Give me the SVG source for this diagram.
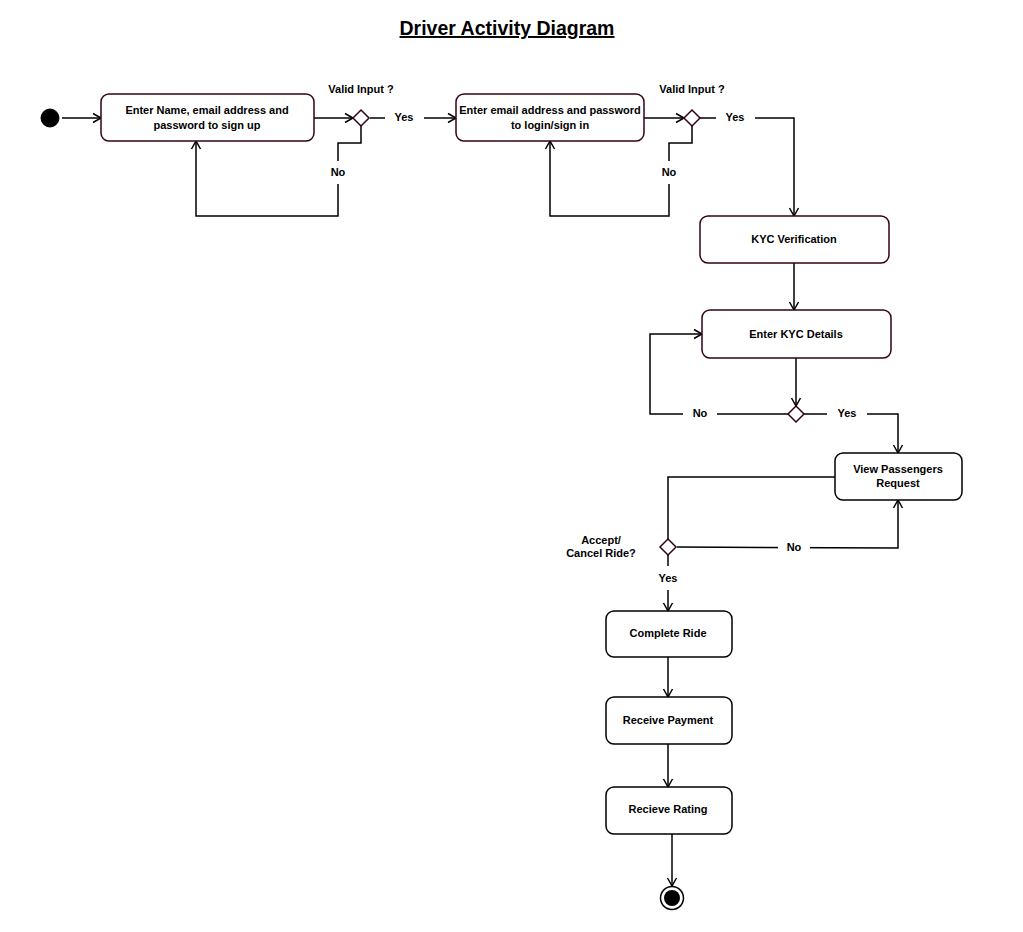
<svg xmlns="http://www.w3.org/2000/svg" width="1023" height="932" viewBox="0 0 1023 932">
<defs>
<marker id="arr" markerUnits="userSpaceOnUse" markerWidth="12" markerHeight="12" refX="9" refY="5" orient="auto" overflow="visible">
<path d="M1,0.5 L9,5 L1,9.5" fill="none" stroke="#000" stroke-width="1.5"/>
</marker>
<style>
.n{fill:#fff;stroke:#33001A;stroke-width:1.5}
.k{fill:#fff;stroke:#000;stroke-width:1.5}
.d{fill:#fff;stroke:#33001A;stroke-width:1.5}
.c{fill:none;stroke:#000;stroke-width:1.5}
.t{font-family:"Liberation Sans",Arial,sans-serif;font-size:11px;font-weight:bold;fill:#000;text-anchor:middle}
.bg{fill:#fff;stroke:none}
</style>
</defs>
<rect width="1023" height="932" fill="#fff"/>
<text x="507" y="35" font-family="Liberation Sans,Arial,sans-serif" font-size="19.5" font-weight="bold" text-anchor="middle" text-decoration="underline">Driver Activity Diagram</text>

<g id="connectors">
<path class="c" d="M62,118 L101,118" marker-end="url(#arr)"/>
<path class="c" d="M314,118 L353,118" marker-end="url(#arr)"/>
<path class="c" d="M370,118 L456,118" marker-end="url(#arr)"/>
<path class="c" d="M361,126 L361,143 L338,143 L338,216 L196,216 L196,141" marker-end="url(#arr)"/>
<path class="c" d="M644,118 L684,118" marker-end="url(#arr)"/>
<path class="c" d="M700,118 L794,118 L794,216" marker-end="url(#arr)"/>
<path class="c" d="M692,126 L692,143 L669,143 L669,216 L550,216 L550,141" marker-end="url(#arr)"/>
<path class="c" d="M794,263 L794,310" marker-end="url(#arr)"/>
<path class="c" d="M796,358 L796,406" marker-end="url(#arr)"/>
<path class="c" d="M788,414 L650,414 L650,334 L702,334" marker-end="url(#arr)"/>
<path class="c" d="M804,414 L898,414 L898,453" marker-end="url(#arr)"/>
<path class="c" d="M835,477 L668,477 L668,540"/>
<path class="c" d="M677,547 L898,548 L898,500" marker-end="url(#arr)"/>
<path class="c" d="M668,555 L668,611" marker-end="url(#arr)"/>
<path class="c" d="M668,657 L668,697" marker-end="url(#arr)"/>
<path class="c" d="M668,744 L668,787" marker-end="url(#arr)"/>
<path class="c" d="M672,834 L672,886" marker-end="url(#arr)"/>
<rect class="bg" x="385" y="108" width="39" height="20"/>
<text class="t" x="404" y="121">Yes</text>
<rect class="bg" x="325" y="161" width="26" height="23"/>
<text class="t" x="338" y="176">No</text>
<rect class="bg" x="716" y="108" width="39" height="20"/>
<text class="t" x="735" y="121">Yes</text>
<rect class="bg" x="656" y="161" width="26" height="23"/>
<text class="t" x="669" y="176">No</text>
<rect class="bg" x="683" y="404" width="34" height="20"/>
<text class="t" x="700" y="417">No</text>
<rect class="bg" x="827" y="404" width="40" height="20"/>
<text class="t" x="847" y="417">Yes</text>
<rect class="bg" x="778" y="538" width="32" height="20"/>
<text class="t" x="794" y="551">No</text>
<rect class="bg" x="655" y="566" width="26" height="24"/>
<text class="t" x="668" y="582">Yes</text>
</g>

<g id="start"><circle cx="50" cy="118" r="9" fill="#000" stroke="#000"/></g>

<g id="signup">
<rect class="n" x="101" y="94" width="213" height="47" rx="8"/>
<text class="t" x="207" y="114">Enter Name, email address and</text>
<text class="t" x="207" y="129">password to sign up</text>
</g>
<g id="dec1">
<path class="d" d="M361,110 L369,118 L361,126 L353,118 Z"/>
<text class="t" x="361" y="93">Valid Input ?</text>
</g>
<g id="login">
<rect class="n" x="456" y="94" width="188" height="47" rx="8"/>
<text class="t" x="550" y="114">Enter email address and password</text>
<text class="t" x="550" y="129">to login/sign in</text>
</g>
<g id="dec2">
<path class="d" d="M692,110 L700,118 L692,126 L684,118 Z"/>
<text class="t" x="692" y="93">Valid Input ?</text>
</g>
<g id="kyc">
<rect class="n" x="700" y="216" width="189" height="47" rx="8"/>
<text class="t" x="794" y="243">KYC Verification</text>
</g>
<g id="kycdetails">
<rect class="n" x="702" y="310" width="189" height="48" rx="8"/>
<text class="t" x="796" y="338">Enter KYC Details</text>
</g>
<g id="dec3">
<path class="d" d="M796,406 L804,414 L796,422 L788,414 Z"/>
</g>
<g id="view">
<rect class="k" x="835" y="453" width="127" height="47" rx="8"/>
<text class="t" x="898" y="473">View Passengers</text>
<text class="t" x="898" y="487">Request</text>
</g>
<g id="dec4">
<path class="d" d="M668,539 L676,547 L668,555 L660,547 Z"/>
<text class="t" x="601" y="544">Accept/</text>
<text class="t" x="601" y="557">Cancel Ride?</text>
</g>
<g id="complete">
<rect class="k" x="606" y="611" width="126" height="46" rx="8"/>
<text class="t" x="668" y="637">Complete Ride</text>
</g>
<g id="payment">
<rect class="k" x="606" y="697" width="126" height="47" rx="8"/>
<text class="t" x="668" y="724">Receive Payment</text>
</g>
<g id="rating">
<rect class="k" x="606" y="787" width="126" height="47" rx="8"/>
<text class="t" x="668" y="813">Recieve Rating</text>
</g>
<g id="end">
<circle cx="672" cy="898" r="11.5" fill="#fff" stroke="#000" stroke-width="1.5"/>
<circle cx="672" cy="898" r="8" fill="#000"/>
</g>
</svg>
